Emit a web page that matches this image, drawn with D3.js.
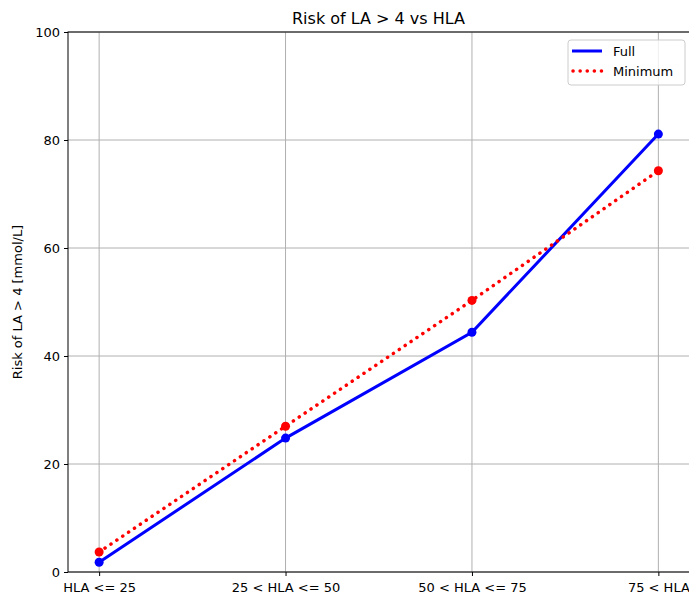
<!DOCTYPE html>
<html>
<head>
<meta charset="utf-8">
<script src="https://cdn.jsdelivr.net/npm/d3@7"></script>
<style>
  body { margin: 0; background: #fff; }
  text { font-family: "DejaVu Sans", sans-serif; }
</style>
</head>
<body>
<svg id="chart" width="689" height="599"></svg>
<script>
// categories and values
var categories = ['HLA <= 25', '25 < HLA <= 50', '50 < HLA <= 75', '75 < HLA'];
var fullRisk = [1.8, 24.8, 44.4, 81.1];
var minRisk = [3.7, 27.0, 50.3, 74.3];
var yTicks = [0, 20, 40, 60, 80, 100];

var margin = {left: 68, top: 32, right: 689.5, bottom: 572};
var svg = d3.select('#chart');

var x = d3.scaleLinear().domain([-0.167, 3.167]).range([margin.left, margin.right]);
var y = d3.scaleLinear().domain([0, 100]).range([margin.bottom, margin.top]);

// grid
svg.append('g').selectAll('line').data(categories).join('line')
  .attr('x1', (d, i) => x(i)).attr('x2', (d, i) => x(i))
  .attr('y1', margin.top).attr('y2', margin.bottom)
  .attr('stroke', '#b0b0b0').attr('stroke-width', 1);
svg.append('g').selectAll('line').data(yTicks).join('line')
  .attr('x1', margin.left).attr('x2', margin.right)
  .attr('y1', d => y(d)).attr('y2', d => y(d))
  .attr('stroke', '#b0b0b0').attr('stroke-width', 1);

// axes
var xAxis = d3.axisBottom(x).tickValues(d3.range(categories.length))
  .tickFormat(i => categories[i]).tickSize(4).tickPadding(4);
var gx = svg.append('g').attr('transform', 'translate(0,' + margin.bottom + ')').call(xAxis);
var yAxis = d3.axisLeft(y).tickValues(yTicks).tickSize(4).tickPadding(4);
var gy = svg.append('g').attr('transform', 'translate(' + margin.left + ',0)').call(yAxis);
[gx, gy].forEach(g => {
  g.selectAll('text').attr('font-size', 13).attr('fill', '#000');
  g.selectAll('line').attr('stroke', '#000');
  g.select('.domain').remove();
});
gx.selectAll('text').attr('dy', '0.9em');

// frame
svg.append('rect')
  .attr('x', margin.left).attr('y', margin.top)
  .attr('width', margin.right - margin.left).attr('height', margin.bottom - margin.top)
  .attr('fill', 'none').attr('stroke', '#000').attr('stroke-width', 1);

var line = d3.line().x((d, i) => x(i)).y(d => y(d));

svg.append('path').datum(fullRisk).attr('d', line)
  .attr('fill', 'none').attr('stroke', '#0000ff').attr('stroke-width', 3);
svg.append('path').datum(minRisk).attr('d', line)
  .attr('fill', 'none').attr('stroke', '#ff0000').attr('stroke-width', 3.5)
  .attr('stroke-dasharray', '0.1 7').attr('stroke-linecap', 'round');

svg.append('g').selectAll('circle').data(fullRisk).join('circle')
  .attr('cx', (d, i) => x(i)).attr('cy', d => y(d)).attr('r', 4.5).attr('fill', '#0000ff');
svg.append('g').selectAll('circle').data(minRisk).join('circle')
  .attr('cx', (d, i) => x(i)).attr('cy', d => y(d)).attr('r', 4.5).attr('fill', '#ff0000');

// title and label
svg.append('text').attr('x', (margin.left + 689) / 2 + 0).attr('y', 24)
  .attr('text-anchor', 'middle').attr('font-size', 16).text('Risk of LA > 4 vs HLA');
svg.append('text').attr('transform', 'translate(22,' + ((margin.top + margin.bottom) / 2) + ') rotate(-90)')
  .attr('text-anchor', 'middle').attr('font-size', 13).text('Risk of LA > 4 [mmol/L]');

// legend
var lg = svg.append('g').attr('transform', 'translate(568,40)');
lg.append('rect').attr('width', 117).attr('height', 45).attr('rx', 3)
  .attr('fill', '#fff').attr('fill-opacity', 0.8).attr('stroke', '#cccccc');
lg.append('line').attr('x1', 4).attr('x2', 34).attr('y1', 11).attr('y2', 11)
  .attr('stroke', '#0000ff').attr('stroke-width', 3);
lg.append('line').attr('x1', 5).attr('x2', 34).attr('y1', 31).attr('y2', 31)
  .attr('stroke', '#ff0000').attr('stroke-width', 3.5)
  .attr('stroke-dasharray', '0.1 7').attr('stroke-linecap', 'round');
lg.append('text').attr('x', 45).attr('y', 16).attr('font-size', 13).text('Full');
lg.append('text').attr('x', 45).attr('y', 36).attr('font-size', 13).text('Minimum');
</script>
</body>
</html>
